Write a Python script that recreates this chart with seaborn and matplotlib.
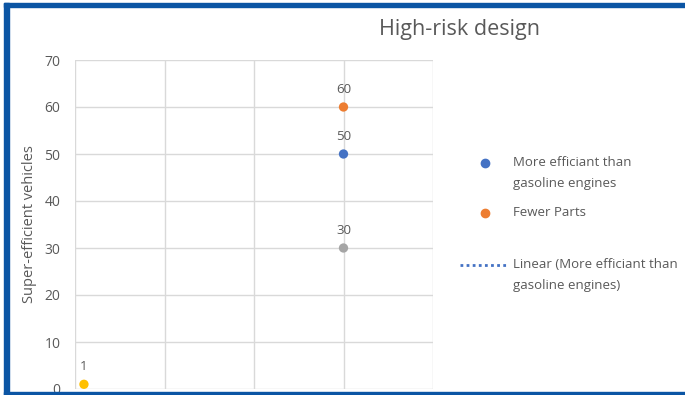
import matplotlib
matplotlib.use("Agg")
import matplotlib.pyplot as plt
from matplotlib.patches import Rectangle
from matplotlib.lines import Line2D
import seaborn as sns
import pandas as pd

series = ["More efficiant than gasoline engines", "Fewer Parts", "Series3", "Series4"]
x_vals = [30, 30, 30, 1]
y_vals = [50, 60, 30, 1]
colors = ["#4472C4", "#ED7D31", "#A5A5A5", "#FFC000"]
title = "High-risk design"
ylabel = "Super-efficient vehicles"
yticks = [0, 10, 20, 30, 40, 50, 60, 70]
xticks = [0, 10, 20, 30, 40]
legend_lines = [["More efficiant than", "gasoline engines"], ["Fewer Parts"],
                ["Linear (More efficiant than", "gasoline engines)"]]

df = pd.DataFrame({"series": series, "x": x_vals, "y": y_vals})

sns.set_theme(style="white")
plt.rcParams['font.family'] = ['Open Sans', 'DejaVu Sans']
txt = "#595959"

W, H = 685, 395
fig = plt.figure(figsize=(6.85, 3.95), dpi=100)
ax = fig.add_axes([75/W, 1-389/H, (433-75)/W, (389-60)/H])

sns.scatterplot(data=df, x="x", y="y", hue="series", palette=colors,
                s=45, edgecolor="none", legend=False, ax=ax, zorder=3)

for xv, yv in zip(x_vals, y_vals):
    ax.annotate(f"{yv}", (xv, yv), xytext=(0, 8), textcoords="offset points",
                ha="center", va="bottom", fontsize=9.5, color=txt)

ax.set_xlim(0, 40)
ax.set_ylim(0, 70)
ax.set_xticks(xticks)
ax.set_xticklabels([])
ax.set_yticks(yticks)
ax.tick_params(axis="y", labelsize=10, colors=txt, length=0, pad=10.5)
ax.tick_params(axis="x", length=0)
ax.grid(True, color="#D9D9D9", linewidth=1)
for sp in ax.spines.values():
    sp.set_visible(False)
ax.set_xlabel("")
ax.set_ylabel(ylabel, fontsize=10.5, color=txt, labelpad=5)

fig.text(460/W, 1-30/H, title, ha="center", va="center", fontsize=15.5, color=txt)

# legend (placed as in the reference)
fig.add_artist(Line2D([485/W], [1-163/H], marker="o", linestyle="none",
                      color=colors[0], markersize=6, transform=fig.transFigure))
fig.add_artist(Line2D([485/W], [1-213/H], marker="o", linestyle="none",
                      color=colors[1], markersize=6, transform=fig.transFigure))
fig.add_artist(Line2D([460/W, 508/W], [1-265/H, 1-265/H], linestyle=(0, (1, 1.2)),
                      color=colors[0], linewidth=2, transform=fig.transFigure))
for lines, y0 in zip(legend_lines, [163, 213, 265]):
    for i, s in enumerate(lines):
        fig.text(513/W, 1-(y0 + 20*i)/H, s, ha="left", va="center",
                 fontsize=9.5, color=txt)

border = "#0B55A4"
fig.add_artist(Rectangle((4/W, 0), 5/W, 1-3/H, transform=fig.transFigure,
                         color=border, zorder=20))
fig.add_artist(Rectangle((4/W, 1-7/H), 1, 4/H, transform=fig.transFigure,
                         color=border, zorder=20))
fig.add_artist(Rectangle((4/W, 0), 1, 3.5/H, transform=fig.transFigure,
                         color=border, zorder=20))

fig.savefig("out.png", dpi=100)
